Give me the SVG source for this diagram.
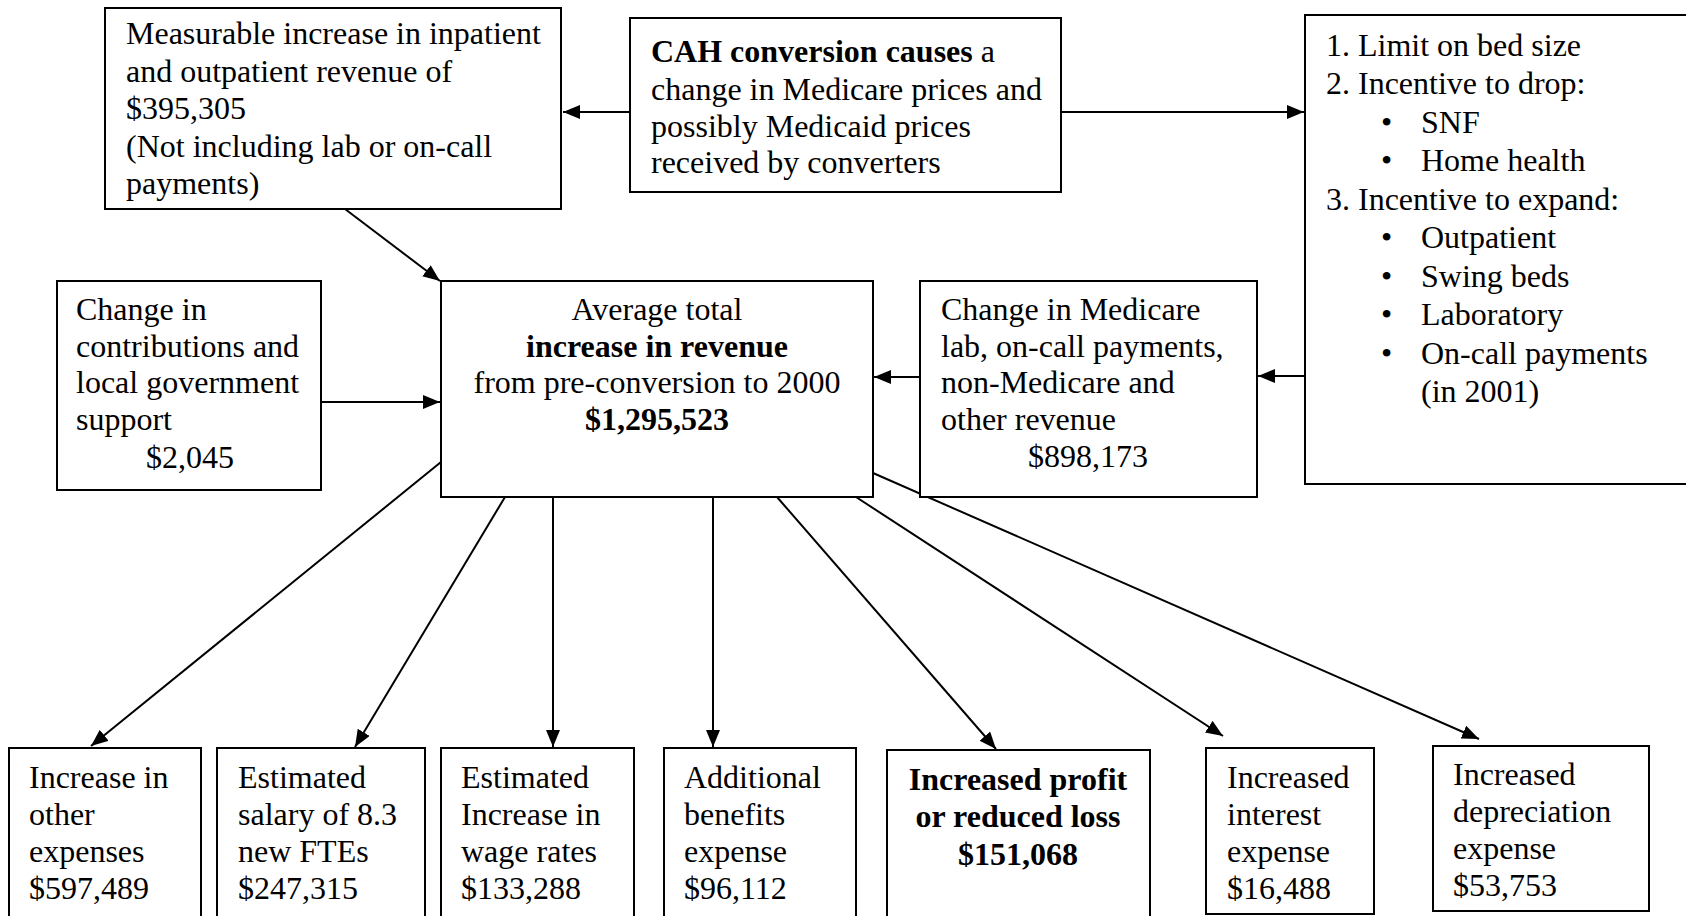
<svg xmlns="http://www.w3.org/2000/svg" width="1686" height="916" viewBox="0 0 1686 916">
<style>
.box{fill:#fff;stroke:#000;stroke-width:2}
.t{font-family:"Liberation Serif","Times New Roman",serif;font-size:32px;fill:#000}
.b{font-weight:bold}
.c{text-anchor:middle}
.ln{stroke:#000;stroke-width:2;fill:none;marker-end:url(#ah)}
</style>
<defs>
<marker id="ah" markerUnits="userSpaceOnUse" markerWidth="20" markerHeight="16" refX="17" refY="7" orient="auto">
<path d="M0,0 L17,7 L0,14 Z" fill="#000"/>
</marker>
</defs>
<rect width="1686" height="916" fill="#fff"/>
<g id="connectors">
<line class="ln" x1="630" y1="112" x2="563" y2="112"/>
<line class="ln" x1="1061" y1="112" x2="1304" y2="112"/>
<line class="ln" x1="1305" y1="376" x2="1258" y2="376"/>
<line class="ln" x1="920" y1="377" x2="874" y2="377"/>
<line class="ln" x1="320" y1="402" x2="440" y2="402"/>
<line class="ln" x1="345" y1="209" x2="440" y2="281"/>
<line class="ln" x1="441" y1="462" x2="91" y2="746"/>
<line class="ln" x1="505" y1="497" x2="355" y2="747"/>
<line class="ln" x1="553" y1="497" x2="553" y2="747"/>
<line class="ln" x1="713" y1="497" x2="713" y2="747"/>
<line class="ln" x1="777" y1="497" x2="996" y2="749"/>
<line class="ln" x1="856" y1="497" x2="1223" y2="736"/>
<line class="ln" x1="873" y1="473" x2="1479" y2="739"/>
</g>
<g id="measurable">
<rect class="box" x="105" y="8" width="456" height="201"/>
<text class="t" x="126" y="44">Measurable increase in inpatient</text>
<text class="t" x="126" y="82">and outpatient revenue of</text>
<text class="t" x="126" y="119">$395,305</text>
<text class="t" x="126" y="157">(Not including lab or on-call</text>
<text class="t" x="126" y="194">payments)</text>
</g>
<g id="cah">
<rect class="box" x="630" y="18" width="431" height="174"/>
<text class="t" x="651" y="62"><tspan class="b">CAH conversion causes</tspan> a</text>
<text class="t" x="651" y="100">change in Medicare prices and</text>
<text class="t" x="651" y="137">possibly Medicaid prices</text>
<text class="t" x="651" y="173">received by converters</text>
</g>
<g id="limits">
<rect class="box" x="1305" y="15" width="400" height="469"/>
<text class="t" x="1326" y="56">1. Limit on bed size</text>
<text class="t" x="1326" y="94">2. Incentive to drop:</text>
<text class="t" x="1381" y="133">•</text><text class="t" x="1421" y="133">SNF</text>
<text class="t" x="1381" y="171">•</text><text class="t" x="1421" y="171">Home health</text>
<text class="t" x="1326" y="210">3. Incentive to expand:</text>
<text class="t" x="1381" y="248">•</text><text class="t" x="1421" y="248">Outpatient</text>
<text class="t" x="1381" y="287">•</text><text class="t" x="1421" y="287">Swing beds</text>
<text class="t" x="1381" y="325">•</text><text class="t" x="1421" y="325">Laboratory</text>
<text class="t" x="1381" y="364">•</text><text class="t" x="1421" y="364">On-call payments</text>
<text class="t" x="1421" y="402">(in 2001)</text>
</g>
<g id="contributions">
<rect class="box" x="57" y="281" width="264" height="209"/>
<text class="t" x="76" y="320">Change in</text>
<text class="t" x="76" y="357">contributions and</text>
<text class="t" x="76" y="393">local government</text>
<text class="t" x="76" y="430">support</text>
<text class="t c" x="190" y="468">$2,045</text>
</g>
<g id="total">
<rect class="box" x="441" y="281" width="432" height="216"/>
<text class="t c" x="657" y="320">Average total</text>
<text class="t c b" x="657" y="357">increase in revenue</text>
<text class="t c" x="657" y="393">from pre-conversion to 2000</text>
<text class="t c b" x="657" y="430">$1,295,523</text>
</g>
<g id="medicare">
<rect class="box" x="920" y="281" width="337" height="216"/>
<text class="t" x="941" y="320">Change in Medicare</text>
<text class="t" x="941" y="357">lab, on-call payments,</text>
<text class="t" x="941" y="393">non-Medicare and</text>
<text class="t" x="941" y="430">other revenue</text>
<text class="t c" x="1088" y="467">$898,173</text>
</g>
<g id="other">
<rect class="box" x="9" y="748" width="192" height="180"/>
<text class="t" x="29" y="788">Increase in</text>
<text class="t" x="29" y="825">other</text>
<text class="t" x="29" y="862">expenses</text>
<text class="t" x="29" y="899">$597,489</text>
</g>
<g id="salary">
<rect class="box" x="217" y="748" width="208" height="180"/>
<text class="t" x="238" y="788">Estimated</text>
<text class="t" x="238" y="825">salary of 8.3</text>
<text class="t" x="238" y="862">new FTEs</text>
<text class="t" x="238" y="899">$247,315</text>
</g>
<g id="wage">
<rect class="box" x="441" y="748" width="193" height="180"/>
<text class="t" x="461" y="788">Estimated</text>
<text class="t" x="461" y="825">Increase in</text>
<text class="t" x="461" y="862">wage rates</text>
<text class="t" x="461" y="899">$133,288</text>
</g>
<g id="benefits">
<rect class="box" x="664" y="748" width="192" height="180"/>
<text class="t" x="684" y="788">Additional</text>
<text class="t" x="684" y="825">benefits</text>
<text class="t" x="684" y="862">expense</text>
<text class="t" x="684" y="899">$96,112</text>
</g>
<g id="profit">
<rect class="box" x="887" y="750" width="263" height="180"/>
<text class="t c b" x="1018" y="790">Increased profit</text>
<text class="t c b" x="1018" y="827">or reduced loss</text>
<text class="t c b" x="1018" y="865">$151,068</text>
</g>
<g id="interest">
<rect class="box" x="1206" y="748" width="168" height="166"/>
<text class="t" x="1227" y="788">Increased</text>
<text class="t" x="1227" y="825">interest</text>
<text class="t" x="1227" y="862">expense</text>
<text class="t" x="1227" y="899">$16,488</text>
</g>
<g id="depreciation">
<rect class="box" x="1433" y="746" width="216" height="165"/>
<text class="t" x="1453" y="785">Increased</text>
<text class="t" x="1453" y="822">depreciation</text>
<text class="t" x="1453" y="859">expense</text>
<text class="t" x="1453" y="896">$53,753</text>
</g>
</svg>
